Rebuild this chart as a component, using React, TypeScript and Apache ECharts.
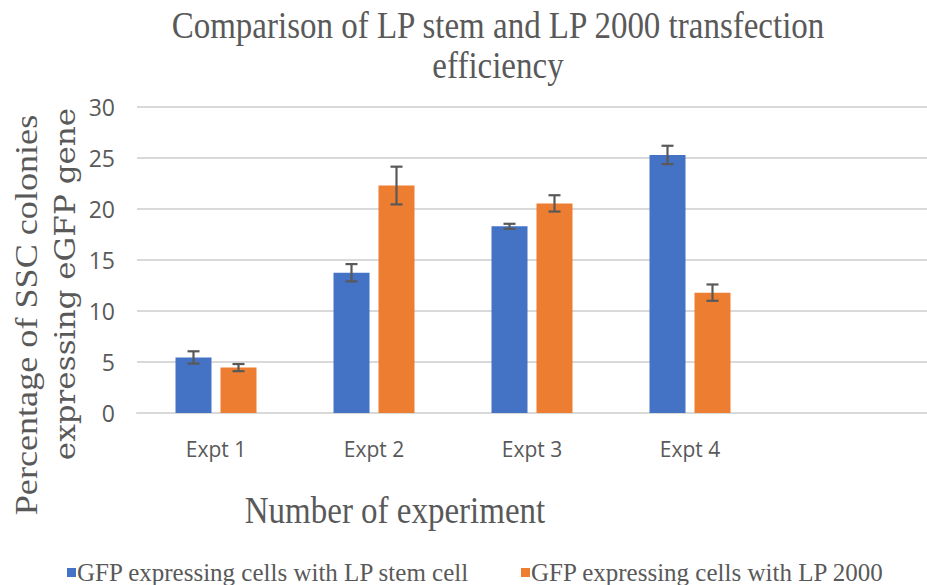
import React, { useEffect, useRef } from "react";
import * as echarts from "echarts";

const categories = ["Expt 1", "Expt 2", "Expt 3", "Expt 4", ""];
const stemValues = [5.45, 13.75, 18.3, 25.3];
const stemErrors = [0.6, 0.85, 0.25, 0.9];
const lp2000Values = [4.45, 22.3, 20.55, 11.8];
const lp2000Errors = [0.35, 1.85, 0.8, 0.8];
const seriesNames = ["GFP expressing cells with LP stem cell", "GFP expressing cells with LP 2000"];
const titleLines = ["Comparison of LP stem and LP 2000 transfection", "efficiency"];
const yTitleLines = ["Percentage of SSC colonies", "expressing eGFP gene"];
const xTitle = "Number of experiment";
const colors = ["#4472C4", "#ED7D31"];

const BAR_W = 36;
const BAR_GAP = 9;
const STRETCH = 1.15;

export default function App() {
  const ref = useRef<HTMLDivElement>(null);
  useEffect(() => {
    if (!ref.current) return;
    const chart = echarts.init(ref.current, undefined, { renderer: "svg" });
    const errData = (vals: number[], errs: number[]) =>
      vals.map((v, i) => [i, v - errs[i], v + errs[i]]);
    const errSeries = (idx: number, vals: number[], errs: number[]) => ({
      type: "custom",
      name: seriesNames[idx] + " error",
      data: errData(vals, errs),
      z: 10,
      encode: { x: 0, y: [1, 2] },
      renderItem: (params: any, api: any) => {
        const i = api.value(0);
        const lo = api.coord([i, api.value(1)]);
        const hi = api.coord([i, api.value(2)]);
        const off = (idx === 0 ? -1 : 1) * (BAR_W + BAR_GAP) / 2;
        const x = lo[0] + off;
        const cap = 6;
        const style = { stroke: "#595959", lineWidth: 2.2 };
        return {
          type: "group",
          children: [
            { type: "line", shape: { x1: x, y1: lo[1], x2: x, y2: hi[1] }, style },
            { type: "line", shape: { x1: x - cap, y1: lo[1], x2: x + cap, y2: lo[1] }, style },
            { type: "line", shape: { x1: x - cap, y1: hi[1], x2: x + cap, y2: hi[1] }, style },
          ],
        };
      },
    });
    const serifText = (text: string, x: number, y: number, size: number) => ({
      type: "text",
      x,
      y,
      scaleY: STRETCH,
      style: {
        text,
        fontFamily: "Liberation Serif",
        fontSize: size,
        fill: "#595959",
        textAlign: "center",
        textVerticalAlign: "middle",
      },
    });
    chart.setOption({
      animation: false,
      backgroundColor: "#ffffff",
      legend: {
        data: seriesNames,
        left: 62,
        top: 555,
        icon: "rect",
        itemWidth: 9,
        itemHeight: 9,
        itemGap: 51,
        textStyle: { fontFamily: "Liberation Serif", fontSize: 25, color: "#595959", padding: [0, 0, 0, -4] },
      },
      grid: { left: 137, top: 107, width: 800, height: 306 },
      xAxis: {
        type: "category",
        data: categories,
        axisLine: { lineStyle: { color: "#d9d9d9", width: 2 } },
        axisTick: { show: false },
        axisLabel: { fontFamily: "Open Sans", fontSize: 21, color: "#595959", margin: 25 },
      },
      yAxis: {
        type: "value",
        min: 0,
        max: 30,
        interval: 5,
        axisLine: { show: false },
        axisTick: { show: false },
        splitLine: { lineStyle: { color: "#d9d9d9", width: 2 } },
        axisLabel: { fontFamily: "Open Sans", fontSize: 23, color: "#595959", margin: 22 },
      },
      graphic: [
        serifText(titleLines[0], 498, 25, 33),
        serifText(titleLines[1], 498, 65, 33),
        serifText(xTitle, 395, 510, 33),
        {
          type: "text",
          x: 26,
          y: 315,
          rotation: Math.PI / 2,
          scaleX: 1.13,
          style: {
            text: yTitleLines[0],
            fontFamily: "Liberation Serif",
            fontSize: 32,
            fill: "#595959",
            textAlign: "center",
            textVerticalAlign: "middle",
          },
        },
        {
          type: "text",
          x: 66,
          y: 284,
          rotation: Math.PI / 2,
          scaleX: STRETCH,
          style: {
            text: yTitleLines[1],
            fontFamily: "DejaVu Serif",
            fontSize: 27,
            fill: "#595959",
            textAlign: "center",
            textVerticalAlign: "middle",
          },
        },
      ],
      series: [
        {
          type: "bar",
          name: seriesNames[0],
          data: stemValues,
          barWidth: BAR_W,
          barGap: (BAR_GAP / BAR_W) * 100 + "%",
          itemStyle: { color: colors[0] },
        },
        {
          type: "bar",
          name: seriesNames[1],
          data: lp2000Values,
          barWidth: BAR_W,
          itemStyle: { color: colors[1] },
        },
        errSeries(0, stemValues, stemErrors),
        errSeries(1, lp2000Values, lp2000Errors),
      ],
    });
    return () => chart.dispose();
  }, []);
  return (
    <div
      ref={ref}
      style={{ position: "fixed", left: 0, top: 0, width: 927, height: 585 }}
    />
  );
}
